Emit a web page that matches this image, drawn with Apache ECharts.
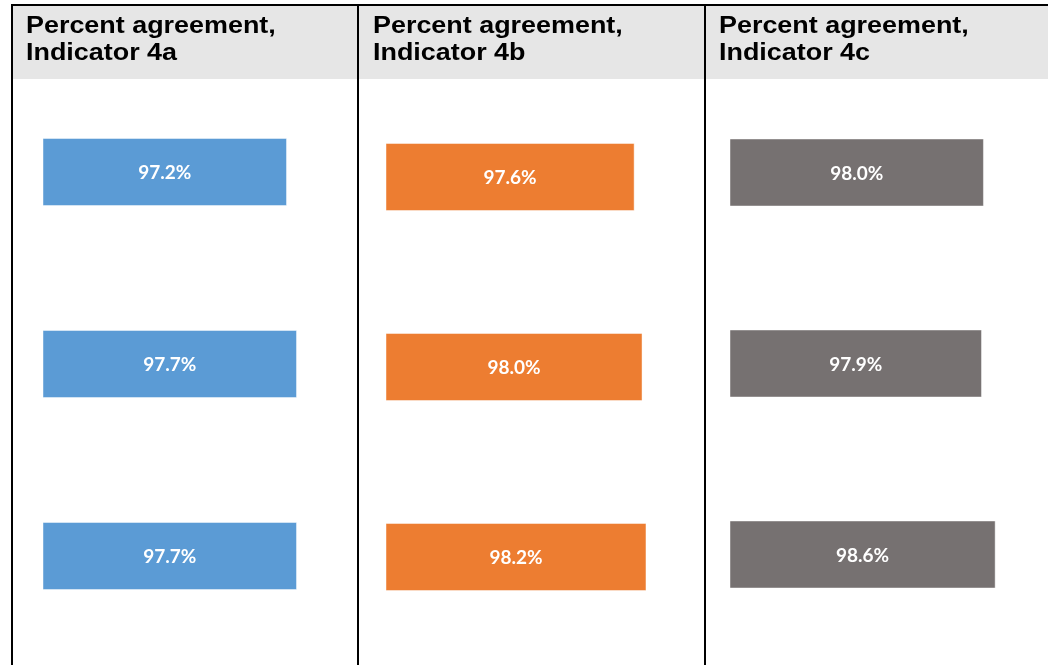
<!DOCTYPE html>
<html>
<head>
<meta charset="utf-8">
<script src="https://cdn.jsdelivr.net/npm/echarts@6/dist/echarts.min.js"></script>
<style>
  html, body { margin: 0; padding: 0; background: #fff; }
  #main { width: 1048px; height: 665px; }
</style>
</head>
<body>
<div id="main"></div>
<script>
// data
var rows = ['1', '2', '3'];
var headers = ['Percent agreement,\nIndicator 4a', 'Percent agreement,\nIndicator 4b', 'Percent agreement,\nIndicator 4c'];
var values4a = [97.2, 97.7, 97.7];
var values4b = [97.6, 98.0, 98.2];
var values4c = [98.0, 97.9, 98.6];
var colors = ['#5b9bd5', '#ed7d31', '#767171'];

var chart = echarts.init(document.getElementById('main'));

// one grid per table column
var grids = [
  { left: 43, top: 76, width: 300, height: 576 },
  { left: 386, top: 82, width: 296, height: 570 },
  { left: 730, top: 77, width: 293, height: 573 }
];
var allValues = [values4a, values4b, values4c];

var xAxes = [], yAxes = [], series = [];
for (var i = 0; i < 3; i++) {
  xAxes.push({
    type: 'value', gridIndex: i, min: 85, max: 100, show: false
  });
  yAxes.push({
    type: 'category', gridIndex: i, data: rows, inverse: true, show: false
  });
  series.push({
    type: 'bar',
    xAxisIndex: i,
    yAxisIndex: i,
    data: allValues[i],
    barWidth: 68,
    itemStyle: { color: colors[i], borderColor: 'rgba(255,255,255,0.45)', borderWidth: 1 },
    label: {
      show: true,
      position: 'inside',
      offset: [0, 1],
      color: '#fff',
      fontFamily: 'Lato',
      fontWeight: 'bold',
      fontSize: 19,
      formatter: function (p) { return p.value.toFixed(1) + '%'; }
    },
    silent: true
  });
}

// table frame and header texts
var headerX = [26, 373, 719];
var graphics = [
  { type: 'rect', shape: { x: 12, y: 5, width: 1036, height: 74 }, style: { fill: '#e6e6e6' }, z: -1 },
  { type: 'rect', shape: { x: 11, y: 4, width: 1037, height: 2 }, style: { fill: '#000' } },
  { type: 'rect', shape: { x: 11, y: 4, width: 2, height: 661 }, style: { fill: '#000' } },
  { type: 'rect', shape: { x: 357, y: 4, width: 2, height: 661 }, style: { fill: '#000' } },
  { type: 'rect', shape: { x: 704, y: 4, width: 2, height: 661 }, style: { fill: '#000' } }
];
for (var j = 0; j < 3; j++) {
  graphics.push({
    type: 'text',
    x: headerX[j],
    y: 13,
    scaleX: 1.17,
    style: {
      text: headers[j],
      fill: '#000',
      font: 'bold 23px "Liberation Sans", Arial, sans-serif',
      lineHeight: 27
    }
  });
}

var option = {
  animation: false,
  grid: grids,
  xAxis: xAxes,
  yAxis: yAxes,
  series: series,
  graphic: graphics
};

chart.setOption(option);
</script>
</body>
</html>
